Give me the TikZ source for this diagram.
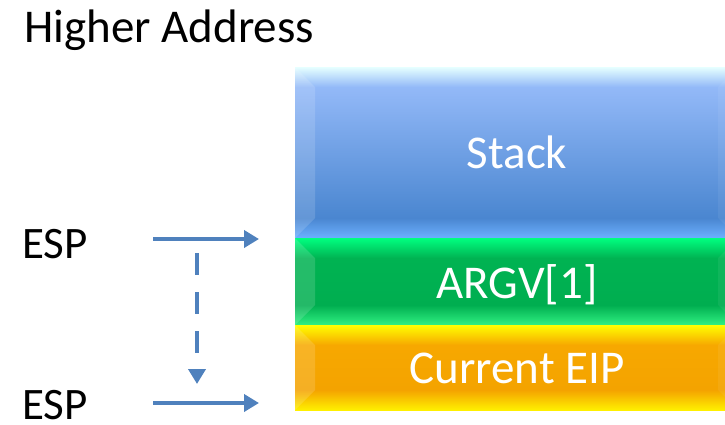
\documentclass[tikz,border=0pt]{standalone}
\usepackage{fontspec}
\setmainfont{Carlito}
\usetikzlibrary{arrows.meta}

\definecolor{arrowblue}{HTML}{4F81BD}
% stack block colours: bevel highlight, face top, face bottom, lower bevel edge
\definecolor{stkHi}{HTML}{E6FFFF}
\definecolor{stkTop}{HTML}{93B9F8}
\definecolor{stkBot}{HTML}{4A86D0}
\definecolor{stkLow}{HTML}{6CB0FF}
\definecolor{argHi}{HTML}{00FF80}
\definecolor{argTop}{HTML}{00B352}
\definecolor{argBot}{HTML}{00AE50}
\definecolor{argLow}{HTML}{30F082}
\definecolor{eipHi}{HTML}{FFFF00}
\definecolor{eipTop}{HTML}{F7A800}
\definecolor{eipBot}{HTML}{F4A300}
\definecolor{eipLow}{HTML}{FFF000}

\tikzset{
  label text/.style={font=\fontsize{45}{50}\selectfont, inner sep=0pt, text depth=0pt},
  title text/.style={font=\fontsize{47}{52}\selectfont, inner sep=0pt},
  cell text/.style={font=\fontsize{47}{52}\selectfont, text=white, inner sep=0pt, anchor=base},
  pointer/.style={draw=arrowblue, line width=4.5pt, -{Triangle[length=15pt,width=17pt]}},
  move/.style={pointer, dash pattern=on 22pt off 17pt},
}

% \bevelbox{left}{top}{right}{bottom}{hi}{top}{bot}{low}
\newcommand{\bevelbox}[8]{%
  \def\bv{20}%
  % upper bevel
  \fill[top color=#5, bottom color=#6] (#1,#2) rectangle (#3,#2+\bv);
  % face
  \fill[top color=#6, bottom color=#7] (#1,#2+\bv) rectangle (#3,#4-\bv);
  % lower bevel
  \fill[top color=#7, bottom color=#8] (#1,#4-\bv) rectangle (#3,#4);
  % side bevels
  \fill[white, fill opacity=0.14] (#1,#2) -- (#1+\bv,#2+\bv) -- (#1+\bv,#4-\bv) -- (#1,#4) -- cycle;
  \fill[white, fill opacity=0.06] (#3,#2) -- (#3-\bv,#2+\bv) -- (#3-\bv,#4-\bv) -- (#3,#4) -- cycle;
}

\begin{document}
\begin{tikzpicture}[x=1pt, y=-1pt]
  \useasboundingbox (0,0) rectangle (725,424);
  \begin{scope}
    \clip (0,0) rectangle (725,424);
    \bevelbox{295}{67}{738}{238}{stkHi}{stkTop}{stkBot}{stkLow}
    \bevelbox{295}{238}{738}{325}{argHi}{argTop}{argBot}{argLow}
    \bevelbox{295}{325}{738}{410}{eipHi}{eipTop}{eipBot}{eipLow}
  \end{scope}

  \node[cell text] (stack) at (517,168) {Stack};
  \node[cell text] (argv) at (517,298) {ARGV[1]};
  \node[cell text] (eip) at (517,383) {Current EIP};

  \node[title text, anchor=base west] (higher) at (24,42) {Higher Address};
  \node[label text, anchor=base west] (espold) at (22,258) {ESP};
  \node[label text, anchor=base west] (espnew) at (22,419) {ESP};

  \coordinate (oldfrom) at (153,239);
  \coordinate (oldto) at (259,239);
  \coordinate (newfrom) at (153,403);
  \coordinate (newto) at (259,403);
  \coordinate (movefrom) at (197,253);
  \coordinate (moveto) at (197,384);

  \draw[pointer] (oldfrom) -- (oldto);
  \draw[pointer] (newfrom) -- (newto);
  \draw[move] (movefrom) -- (moveto);
\end{tikzpicture}
\end{document}
